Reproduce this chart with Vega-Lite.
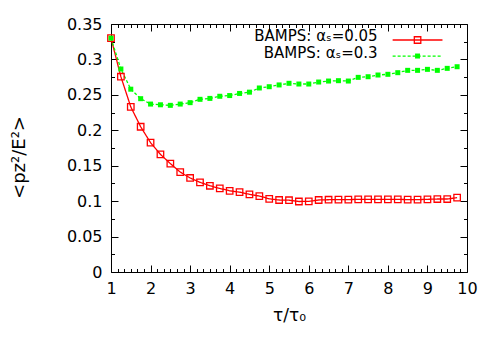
{
  "$schema": "https://vega.github.io/schema/vega-lite/v6.json",
  "width": 356,
  "height": 248,
  "autosize": {"type": "none"},
  "padding": {"left": 111, "top": 24, "right": 33, "bottom": 78},
  "background": "white",
  "config": {
    "view": {"stroke": "black", "strokeWidth": 1},
    "axis": {
      "labelFont": "DejaVu Sans", "labelFontSize": 16, "labelColor": "black",
      "titleFont": "DejaVu Sans", "titleFontSize": 17, "titleFontWeight": "normal", "titleColor": "black",
      "tickColor": "black", "tickWidth": 1, "domain": false, "grid": false,
      "labelOverlap": false, "labelFlush": false
    }
  },
  "datasets": {
    "d": [
      {"t": 1.0, "v": 0.330, "s": "a"}, {"t": 1.25, "v": 0.2756, "s": "a"}, {"t": 1.5, "v": 0.233, "s": "a"},
      {"t": 1.75, "v": 0.205, "s": "a"}, {"t": 2.0, "v": 0.1825, "s": "a"}, {"t": 2.25, "v": 0.166, "s": "a"},
      {"t": 2.5, "v": 0.153, "s": "a"}, {"t": 2.75, "v": 0.141, "s": "a"}, {"t": 3.0, "v": 0.1327, "s": "a"},
      {"t": 3.25, "v": 0.1266, "s": "a"}, {"t": 3.5, "v": 0.1217, "s": "a"}, {"t": 3.75, "v": 0.118, "s": "a"},
      {"t": 4.0, "v": 0.1146, "s": "a"}, {"t": 4.25, "v": 0.1127, "s": "a"}, {"t": 4.5, "v": 0.1096, "s": "a"},
      {"t": 4.75, "v": 0.1072, "s": "a"}, {"t": 5.0, "v": 0.1033, "s": "a"}, {"t": 5.25, "v": 0.1016, "s": "a"},
      {"t": 5.5, "v": 0.1013, "s": "a"}, {"t": 5.75, "v": 0.0995, "s": "a"}, {"t": 6.0, "v": 0.0997, "s": "a"},
      {"t": 6.25, "v": 0.1016, "s": "a"}, {"t": 6.5, "v": 0.102, "s": "a"}, {"t": 6.75, "v": 0.1021, "s": "a"},
      {"t": 7.0, "v": 0.1021, "s": "a"}, {"t": 7.25, "v": 0.1026, "s": "a"}, {"t": 7.5, "v": 0.1026, "s": "a"},
      {"t": 7.75, "v": 0.1026, "s": "a"}, {"t": 8.0, "v": 0.1026, "s": "a"}, {"t": 8.25, "v": 0.1026, "s": "a"},
      {"t": 8.5, "v": 0.1021, "s": "a"}, {"t": 8.75, "v": 0.1021, "s": "a"}, {"t": 9.0, "v": 0.1026, "s": "a"},
      {"t": 9.25, "v": 0.103, "s": "a"}, {"t": 9.5, "v": 0.103, "s": "a"}, {"t": 9.75, "v": 0.1049, "s": "a"},
      {"t": 1.0, "v": 0.330, "s": "b"}, {"t": 1.25, "v": 0.2865, "s": "b"}, {"t": 1.5, "v": 0.258, "s": "b"},
      {"t": 1.75, "v": 0.2446, "s": "b"}, {"t": 2.0, "v": 0.237, "s": "b"}, {"t": 2.25, "v": 0.236, "s": "b"},
      {"t": 2.5, "v": 0.2352, "s": "b"}, {"t": 2.75, "v": 0.237, "s": "b"}, {"t": 3.0, "v": 0.239, "s": "b"},
      {"t": 3.25, "v": 0.2437, "s": "b"}, {"t": 3.5, "v": 0.245, "s": "b"}, {"t": 3.75, "v": 0.248, "s": "b"},
      {"t": 4.0, "v": 0.249, "s": "b"}, {"t": 4.25, "v": 0.252, "s": "b"}, {"t": 4.5, "v": 0.2538, "s": "b"},
      {"t": 4.75, "v": 0.2597, "s": "b"}, {"t": 5.0, "v": 0.2615, "s": "b"}, {"t": 5.25, "v": 0.264, "s": "b"},
      {"t": 5.5, "v": 0.2663, "s": "b"}, {"t": 5.75, "v": 0.2653, "s": "b"}, {"t": 6.0, "v": 0.2653, "s": "b"},
      {"t": 6.25, "v": 0.2681, "s": "b"}, {"t": 6.5, "v": 0.2695, "s": "b"}, {"t": 6.75, "v": 0.270, "s": "b"},
      {"t": 7.0, "v": 0.2695, "s": "b"}, {"t": 7.25, "v": 0.2747, "s": "b"}, {"t": 7.5, "v": 0.2756, "s": "b"},
      {"t": 7.75, "v": 0.278, "s": "b"}, {"t": 8.0, "v": 0.279, "s": "b"}, {"t": 8.25, "v": 0.2813, "s": "b"},
      {"t": 8.5, "v": 0.2846, "s": "b"}, {"t": 8.75, "v": 0.2846, "s": "b"}, {"t": 9.0, "v": 0.286, "s": "b"},
      {"t": 9.25, "v": 0.2846, "s": "b"}, {"t": 9.5, "v": 0.2874, "s": "b"}, {"t": 9.75, "v": 0.2897, "s": "b"}
    ]
  },
  "data": {"name": "d"},
  "resolve": {"axis": {"x": "independent", "y": "independent"}},
  "layer": [
    {
      "mark": {"type": "line", "strokeWidth": 1.3},
      "encoding": {
        "x": {
          "field": "t", "type": "quantitative",
          "scale": {"domain": [1, 10], "nice": false, "zero": false},
          "axis": {
            "orient": "bottom", "title": "τ/τ₀", "titleY": 43, "titleBaseline": "middle",
            "values": [1,1.1667,1.3333,1.5,1.6667,1.8333,2,2.1667,2.3333,2.5,2.6667,2.8333,3,3.1667,3.3333,3.5,3.6667,3.8333,4,4.1667,4.3333,4.5,4.6667,4.8333,5,5.1667,5.3333,5.5,5.6667,5.8333,6,6.1667,6.3333,6.5,6.6667,6.8333,7,7.1667,7.3333,7.5,7.6667,7.8333,8,8.1667,8.3333,8.5,8.6667,8.8333,9,9.1667,9.3333,9.5,9.6667,9.8333,10],
            "labelExpr": "abs(datum.value - round(datum.value)) < 0.01 ? format(datum.value, 'd') : ''",
            "tickSize": {"condition": {"test": "abs(datum.value - round(datum.value)) < 0.01", "value": -7}, "value": -3.5},
            "labelPadding": 15
          }
        },
        "y": {
          "field": "v", "type": "quantitative",
          "scale": {"domain": [0, 0.35], "nice": false},
          "axis": {
            "orient": "left", "title": "<pz²/E²>", "titleX": -92, "titleY": 133, "titleBaseline": "middle", "titleAlign": "center", "titleAngle": 270, "titleFontSize": 18,
            "values": [0,0.025,0.05,0.075,0.1,0.125,0.15,0.175,0.2,0.225,0.25,0.275,0.3,0.325,0.35],
            "labelExpr": "abs(datum.value*20 - round(datum.value*20)) < 0.01 ? format(datum.value, '.2~f') : ''",
            "tickSize": {"condition": {"test": "abs(datum.value*20 - round(datum.value*20)) < 0.01", "value": -7}, "value": -3.5},
            "labelPadding": 16
          }
        },
        "color": {"field": "s", "type": "nominal", "scale": {"domain": ["a", "b"], "range": ["#ff0000", "#00ff00"]}, "legend": null},
        "strokeDash": {"field": "s", "type": "nominal", "scale": {"domain": ["a", "b"], "range": [[1, 0], [3, 2]]}, "legend": null}
      }
    },
    {
      "transform": [{"filter": "datum.s === 'a'"}],
      "mark": {"type": "point", "shape": "square", "filled": false, "size": 42, "strokeWidth": 1.3, "color": "#ff0000", "opacity": 1},
      "encoding": {
        "x": {
          "field": "t", "type": "quantitative",
          "axis": {
            "orient": "top", "title": null, "labels": false,
            "values": [1,1.1667,1.3333,1.5,1.6667,1.8333,2,2.1667,2.3333,2.5,2.6667,2.8333,3,3.1667,3.3333,3.5,3.6667,3.8333,4,4.1667,4.3333,4.5,4.6667,4.8333,5,5.1667,5.3333,5.5,5.6667,5.8333,6,6.1667,6.3333,6.5,6.6667,6.8333,7,7.1667,7.3333,7.5,7.6667,7.8333,8,8.1667,8.3333,8.5,8.6667,8.8333,9,9.1667,9.3333,9.5,9.6667,9.8333,10],
            "tickSize": {"condition": {"test": "abs(datum.value - round(datum.value)) < 0.01", "value": -7}, "value": -3.5}
          }
        },
        "y": {
          "field": "v", "type": "quantitative",
          "axis": {
            "orient": "right", "title": null, "labels": false,
            "values": [0,0.025,0.05,0.075,0.1,0.125,0.15,0.175,0.2,0.225,0.25,0.275,0.3,0.325,0.35],
            "tickSize": {"condition": {"test": "abs(datum.value*20 - round(datum.value*20)) < 0.01", "value": -7}, "value": -3.5}
          }
        }
      }
    },
    {
      "transform": [{"filter": "datum.s === 'b'"}],
      "mark": {"type": "square", "size": 25, "color": "#00ff00", "opacity": 1},
      "encoding": {
        "x": {"field": "t", "type": "quantitative", "axis": null},
        "y": {"field": "v", "type": "quantitative", "axis": null}
      }
    },
    {
      "data": {"values": [{"label": "BAMPS: αₛ=0.05"}]},
      "mark": {"type": "text", "align": "right", "baseline": "middle", "font": "DejaVu Sans", "fontSize": 15, "color": "black"},
      "encoding": {
        "x": {"datum": 7.74, "type": "quantitative", "axis": null},
        "y": {"datum": 0.3335, "type": "quantitative", "axis": null},
        "text": {"field": "label"}
      }
    },
    {
      "data": {"values": [{"label": "BAMPS: αₛ=0.3"}]},
      "mark": {"type": "text", "align": "right", "baseline": "middle", "font": "DejaVu Sans", "fontSize": 15, "color": "black"},
      "encoding": {
        "x": {"datum": 7.74, "type": "quantitative", "axis": null},
        "y": {"datum": 0.3084, "type": "quantitative", "axis": null},
        "text": {"field": "label"}
      }
    },
    {
      "data": {"values": [{"s": "a"}]},
      "mark": {"type": "rule", "color": "#ff0000", "strokeWidth": 1.3},
      "encoding": {
        "x": {"datum": 8.12, "type": "quantitative", "axis": null},
        "x2": {"datum": 9.38},
        "y": {"datum": 0.3274, "type": "quantitative", "axis": null}
      }
    },
    {
      "data": {"values": [{"s": "a"}]},
      "mark": {"type": "point", "shape": "square", "filled": false, "size": 42, "strokeWidth": 1.3, "color": "#ff0000", "opacity": 1},
      "encoding": {
        "x": {"datum": 8.75, "type": "quantitative", "axis": null},
        "y": {"datum": 0.3274, "type": "quantitative", "axis": null}
      }
    },
    {
      "data": {"values": [{"s": "b"}]},
      "mark": {"type": "rule", "color": "#00ff00", "strokeWidth": 1.3, "strokeDash": [3, 2]},
      "encoding": {
        "x": {"datum": 8.12, "type": "quantitative", "axis": null},
        "x2": {"datum": 9.38},
        "y": {"datum": 0.3048, "type": "quantitative", "axis": null}
      }
    },
    {
      "data": {"values": [{"s": "b"}]},
      "mark": {"type": "square", "size": 25, "color": "#00ff00", "opacity": 1},
      "encoding": {
        "x": {"datum": 8.75, "type": "quantitative", "axis": null},
        "y": {"datum": 0.3048, "type": "quantitative", "axis": null}
      }
    }
  ]
}
